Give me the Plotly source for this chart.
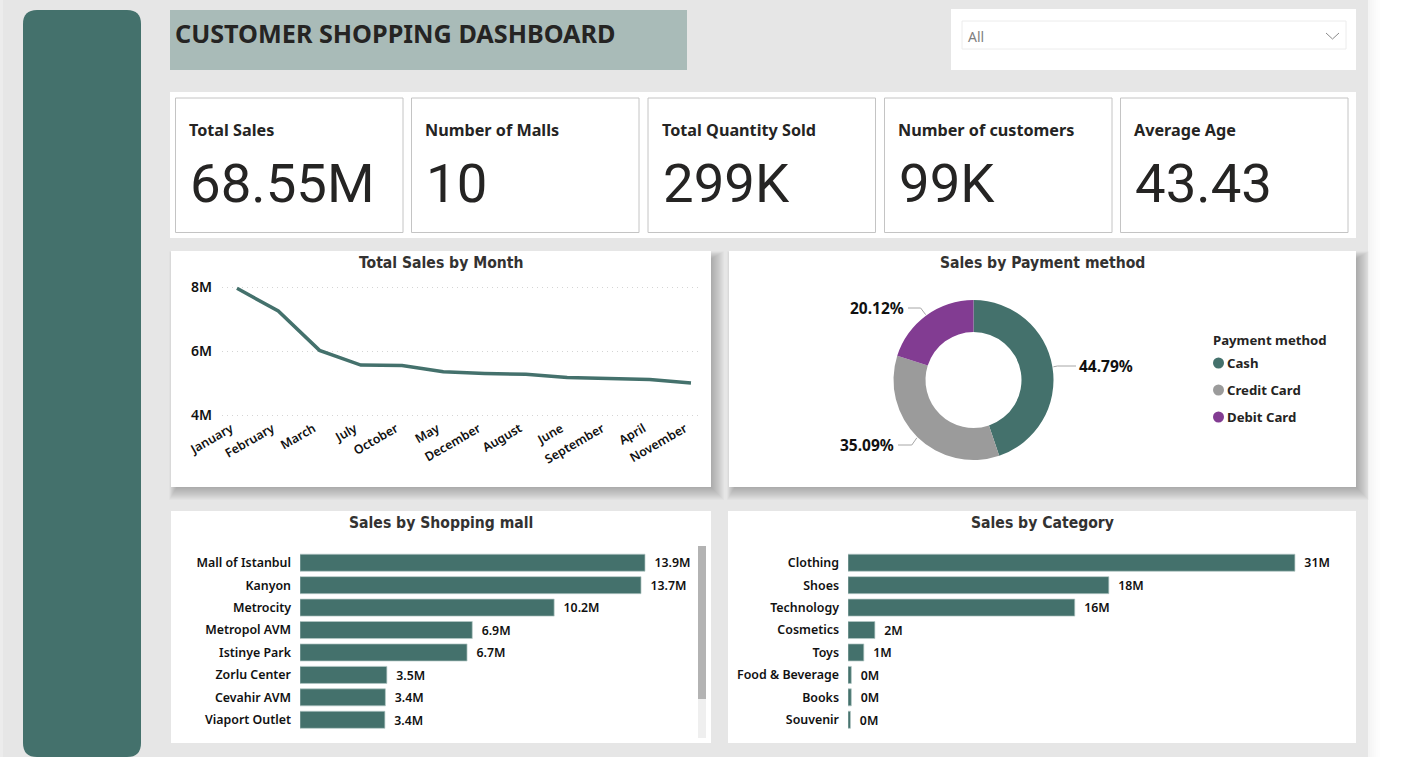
import math
import plotly.graph_objects as go

W, H = 1410, 757

months = ["January", "February", "March", "July", "October", "May", "December",
          "August", "June", "September", "April", "November"]
month_sales = [7.96, 7.25, 6.02, 5.56, 5.55, 5.35, 5.30, 5.27, 5.17, 5.13, 5.11, 5.00]

payment_methods = ["Cash", "Credit Card", "Debit Card"]
payment_share = [44.79, 35.09, 20.12]

malls = ["Mall of Istanbul", "Kanyon", "Metrocity", "Metropol AVM", "Istinye Park",
         "Zorlu Center", "Cevahir AVM", "Viaport Outlet"]
mall_sales = [13.9, 13.74, 10.24, 6.94, 6.73, 3.5, 3.44, 3.42]

categories = ["Clothing", "Shoes", "Technology", "Cosmetics", "Toys",
              "Food & Beverage", "Books", "Souvenir"]
category_sales = [31.08, 18.14, 15.77, 1.87, 1.1, 0.23, 0.23, 0.17]

kpi_titles = ["Total Sales", "Number of Malls", "Total Quantity Sold",
              "Number of customers", "Average Age"]
kpi_values = ["68.55M", "10", "299K", "99K", "43.43"]

TEAL = "#44716c"
GREY = "#9b9b9b"
PURPLE = "#823c92"
PAGE = "#e6e6e6"
INK = "#252423"
FONT = "Noto Sans"
COND = "DejaVu Sans Condensed"
colors = [TEAL, GREY, PURPLE]


def fx(px):
    return px / W


def fy(py):
    return 1 - py / H


shapes = []
ann = []


def rect(x0, y0, x1, y1, fill, line=None, lw=1):
    shapes.append(dict(type="rect", xref="paper", yref="paper", layer="below",
                       x0=fx(x0), x1=fx(x1), y0=fy(y1), y1=fy(y0), fillcolor=fill,
                       line=dict(color=line or "rgba(0,0,0,0)", width=lw if line else 0)))


def seg(x0, y0, x1, y1, color, lw=1):
    shapes.append(dict(type="line", xref="paper", yref="paper", layer="above",
                       x0=fx(x0), x1=fx(x1), y0=fy(y0), y1=fy(y1),
                       line=dict(color=color, width=lw)))


def text(x, y, s, size, color=INK, anchor="left", font=FONT, bold=False):
    off = {"left": -2, "right": 2, "center": 0}[anchor]
    ann.append(dict(xref="paper", yref="paper", x=fx(x + off), y=fy(y), text=f"<b>{s}</b>" if bold else s,
                    showarrow=False, xanchor=anchor, yanchor="middle",
                    font=dict(family=font, size=size, color=color)))


def shadow(x0, y0, x1, y1, reach=13):
    for i in range(reach, 0, -1):
        rect(x0 + 6 - i * 0.6, y0 + 8 - i * 0.6, x1 + i, y1 + i, "rgba(0,0,0,0.02)")


# page
rect(0, 0, 1368, H, PAGE)
rect(0, 0, 3, H, "#ececec")
for i, a in enumerate([0.045, 0.035, 0.028, 0.02, 0.013, 0.007]):
    rect(1368 + i * 2, 0, 1370 + i * 2, H, f"rgba(0,0,0,{a})")

# sidebar
x0, x1, y0, y1, r = fx(23), fx(141), fy(10), fy(757), 14
rx, ry = r / W, r / H
shapes.append(dict(type="path", xref="paper", yref="paper", layer="below",
                   path=f"M {x0+rx} {y0} L {x1-rx} {y0} Q {x1} {y0} {x1} {y0-ry} "
                        f"L {x1} {y1+ry} Q {x1} {y1} {x1-rx} {y1} L {x0+rx} {y1} "
                        f"Q {x0} {y1} {x0} {y1+ry} L {x0} {y0-ry} Q {x0} {y0} {x0+rx} {y0} Z",
                   fillcolor=TEAL, line=dict(width=0)))

# header
rect(170, 10, 687, 70, "#a9bbb8")
text(175, 33, "CUSTOMER SHOPPING DASHBOARD", 25.2, INK, bold=True)
rect(951, 9, 1356, 70, "white")
rect(962, 21, 1346, 49, "white", "#ececec")
text(968, 36, "All", 14, "#7f7f7f")
seg(1326, 33, 1332.5, 39, "#8a8a8a", 1)
seg(1332.5, 39, 1339, 33, "#8a8a8a", 1)

# KPI row
rect(170, 92, 1356, 238, "white")
card_x = [175, 411, 647.5, 884, 1120]
for cx, title, value in zip(card_x, kpi_titles, kpi_values):
    rect(cx + .5, 98, cx + 228, 232.5, "white", "#c4c4c4", 1)
    text(cx + 14, 130, title, 16.2, INK, bold=True)
    text(cx + 15, 183, value, 54.5, INK, font="Roboto")

# chart panels
shadow(171, 251, 711, 487)
shadow(729, 251, 1356, 487)
rect(171, 251, 711, 487, "white")
rect(729, 251, 1356, 487, "white")
rect(171, 511, 711, 743, "white")
rect(728, 511, 1356, 743, "white")
TITLE_INK = "#333231"
text(441, 262.5, "Total Sales by Month", 15.6, TITLE_INK, "center", COND, True)
text(1042, 262.5, "Sales by Payment method", 15.6, TITLE_INK, "center", COND, True)
text(441, 522.5, "Sales by Shopping mall", 15.6, TITLE_INK, "center", COND, True)
text(1042, 522.5, "Sales by Category", 15.6, TITLE_INK, "center", COND, True)

# donut leader labels, positions derived from the slice mid angles
CX, CY, R = 973.5, 380, 80
label_pos = [(1079, 367, "left"), (894, 446, "right"), (904, 309, "right")]
acc = 0
for share, (lx, ly, anch) in zip(payment_share, label_pos):
    mid = math.radians((acc + share / 2) * 3.6)
    acc += share
    ex, ey = CX + (R + 1) * math.sin(mid), CY - (R + 1) * math.cos(mid)
    gx = lx - 3 if anch == "left" else lx + 4
    kx = ex + (4 if anch == "left" else -5)
    ky = ly - 1
    seg(ex, ey, kx, ky, "#a6a6a6", 1)
    seg(kx, ky, gx, ky, "#a6a6a6", 1)
    text(lx, ly - 1, f"{share:.2f}%", 15.5, "#111111", anch, bold=True)

# legend
text(1213, 340, "Payment method", 13.2, INK, bold=True)
for name, col, ly in zip(payment_methods, colors, [363, 390, 417]):
    shapes.append(dict(type="circle", xref="paper", yref="paper", layer="above",
                       x0=fx(1213), x1=fx(1224), y0=fy(ly + 5.5), y1=fy(ly - 5.5),
                       fillcolor=col, line=dict(width=0)))
    text(1227, ly, name, 13.2, INK, bold=True)

# scrollbar
rect(698, 546, 706, 738, "#efefef")
rect(698, 546, 706, 699, "#b3b3b3")

fig = go.Figure()

fig.add_trace(go.Scatter(x=months, y=month_sales, mode="lines", xaxis="x", yaxis="y",
                         line=dict(color=TEAL, width=3.5), showlegend=False, cliponaxis=False))

fig.add_trace(go.Pie(labels=payment_methods, values=payment_share, hole=0.6, sort=False,
                     direction="clockwise", rotation=0, marker=dict(colors=colors, line=dict(width=0)),
                     textposition="none", showlegend=False,
                     domain=dict(x=[fx(CX - R), fx(CX + R)], y=[fy(CY + R), fy(CY - R)])))

labelfont = dict(family=FONT, size=12.4, color="#111111", weight=600)

fig.add_trace(go.Bar(x=mall_sales, y=malls, orientation="h", xaxis="x2", yaxis="y2",
                     marker=dict(color=TEAL, line=dict(color="#b5c8c5", width=0.7)),
                     texttemplate="\u00a0\u00a0%{x:.1f}M", textposition="outside", cliponaxis=False,
                     textfont=dict(labelfont, size=13), showlegend=False))

fig.add_trace(go.Bar(x=category_sales, y=categories, orientation="h", xaxis="x3", yaxis="y3",
                     marker=dict(color=TEAL, line=dict(color="#b5c8c5", width=0.7)),
                     texttemplate="\u00a0\u00a0%{x:.0f}M", textposition="outside", cliponaxis=False,
                     textfont=dict(labelfont, size=13), showlegend=False))

tickfont = labelfont
bar_axis = dict(visible=False, fixedrange=True)
fig.update_layout(
    width=W, height=H, margin=dict(l=0, r=0, t=0, b=0),
    paper_bgcolor="white", plot_bgcolor="rgba(0,0,0,0)",
    shapes=shapes, annotations=ann, bargap=0.24,
    xaxis=dict(domain=[fx(222), fx(702)], type="category", categoryorder="array", categoryarray=months,
               range=[-0.363, 11.267], showgrid=False, showline=False, ticks="", tickangle=-30,
               tickfont=tickfont, automargin=False, ticklabelshift=-6),
    yaxis=dict(domain=[fy(418.2), fy(283.8)], range=[3.9, 8.1], tickvals=[4, 6, 8],
               ticktext=["4M", "6M", "8M"], gridcolor="#d4d4d4", griddash="1px,4px", gridwidth=1,
               zeroline=False, showline=False, tickfont=dict(labelfont, size=14), ticks="",
               automargin=False, ticklabelstandoff=9),
    xaxis2=dict(domain=[fx(300), fx(300 + 24.82 * 16)], range=[0, 16], anchor="y2", **bar_axis),
    yaxis2=dict(domain=[fy(731), fy(551.5)], anchor="x2", autorange="reversed", type="category",
                categoryorder="array", categoryarray=malls, tickfont=tickfont, ticks="",
                showline=False, showgrid=False, automargin=False, ticklabelstandoff=8),
    xaxis3=dict(domain=[fx(848), fx(848 + 14.38 * 35)], range=[0, 35], anchor="y3", **bar_axis),
    yaxis3=dict(domain=[fy(731), fy(551.5)], anchor="x3", autorange="reversed", type="category",
                categoryorder="array", categoryarray=categories, tickfont=tickfont, ticks="",
                showline=False, showgrid=False, automargin=False, ticklabelstandoff=8),
)

fig.write_html("out.html", config=dict(displayModeBar=False),
               post_script="document.body.style.margin='0';document.body.style.overflow='hidden';")
